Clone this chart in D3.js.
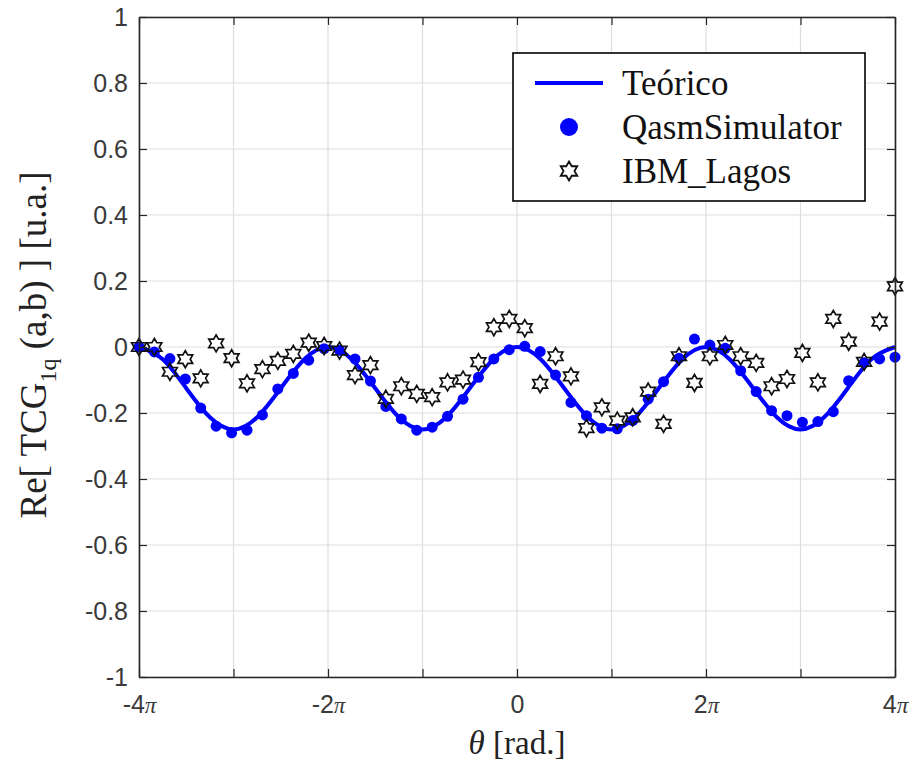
<!DOCTYPE html>
<html>
<head>
<meta charset="utf-8">
<script src="https://cdn.jsdelivr.net/npm/d3@7"></script>
<style>
  body { margin: 0; background: #fff; }
  svg { display: block; }
</style>
</head>
<body>
<div id="graph"><svg></svg></div>
<script>
// sample positions, in multiples of pi
let thetaPi = [-4.000, -3.837, -3.673, -3.510, -3.347, -3.184, -3.020, -2.857, -2.694, -2.531,
  -2.367, -2.204, -2.041, -1.878, -1.714, -1.551, -1.388, -1.224, -1.061, -0.898,
  -0.735, -0.571, -0.408, -0.245, -0.082, 0.082, 0.245, 0.408, 0.571, 0.735,
  0.898, 1.061, 1.224, 1.388, 1.551, 1.714, 1.878, 2.041, 2.204, 2.367,
  2.531, 2.694, 2.857, 3.020, 3.184, 3.347, 3.510, 3.673, 3.837, 4.000];

let qasm = [0.000, -0.015, -0.035, -0.097, -0.185, -0.240, -0.260, -0.252, -0.206, -0.127,
  -0.080, -0.040, -0.005, -0.010, -0.036, -0.103, -0.180, -0.218, -0.252, -0.243,
  -0.210, -0.158, -0.092, -0.036, -0.008, 0.002, -0.014, -0.085, -0.168, -0.208,
  -0.246, -0.248, -0.223, -0.158, -0.105, -0.034, 0.024, 0.006, -0.004, -0.072,
  -0.135, -0.193, -0.208, -0.228, -0.226, -0.196, -0.102, -0.048, -0.036, -0.031];

let lagos = [0.000, 0.000, -0.075, -0.037, -0.095, 0.011, -0.034, -0.110, -0.067, -0.042,
  -0.021, 0.013, 0.003, -0.011, -0.085, -0.055, -0.157, -0.119, -0.142, -0.152,
  -0.107, -0.099, -0.046, 0.060, 0.085, 0.057, -0.112, -0.028, -0.089, -0.246,
  -0.183, -0.223, -0.213, -0.135, -0.233, -0.028, -0.109, -0.028, 0.006, -0.028,
  -0.048, -0.119, -0.097, -0.018, -0.107, 0.085, 0.016, -0.045, 0.077, 0.184];

// theoretical curve read every pi/4
let theoryPi = [-4, -3.75, -3.5, -3.25, -3, -2.75, -2.5, -2.25, -2, -1.75, -1.5, -1.25, -1,
  -0.75, -0.5, -0.25, 0, 0.25, 0.5, 0.75, 1, 1.25, 1.5, 1.75, 2, 2.25, 2.5, 2.75, 3,
  3.25, 3.5, 3.75, 4];
let theory = [0, -0.037, -0.125, -0.213, -0.25, -0.213, -0.125, -0.037, 0, -0.037, -0.125,
  -0.213, -0.25, -0.213, -0.125, -0.037, 0, -0.037, -0.125, -0.213, -0.25, -0.213, -0.125,
  -0.037, 0, -0.037, -0.125, -0.213, -0.25, -0.213, -0.125, -0.037, 0];

let xTicksPi = [-4, -3, -2, -1, 0, 1, 2, 3, 4];
let xTickLabels = ["-4", "", "-2", "", "0", "", "2", "", "4"];
let yTicks = [-1, -0.8, -0.6, -0.4, -0.2, 0, 0.2, 0.4, 0.6, 0.8, 1];
let yTickLabels = ["-1", "-0.8", "-0.6", "-0.4", "-0.2", "0", "0.2", "0.4", "0.6", "0.8", "1"];
let legendNames = ["Teórico", "QasmSimulator", "IBM_Lagos"];

let margins = { top: 17, right: 24, bottom: 90, left: 139 };
let outerWidth = 919;
let outerHeight = 767;
let innerWidth = outerWidth - margins.left - margins.right;
let innerHeight = outerHeight - margins.top - margins.bottom;

let axisColor = "#262626";
let serif = "'Liberation Serif', 'Times New Roman', serif";
let sans = "'Liberation Sans', Arial, sans-serif";

let svgRoot = d3.select("div#graph svg")
  .attr("width", outerWidth)
  .attr("height", outerHeight);

let svg = svgRoot.append("g")
  .attr("id", "plot-area")
  .attr("transform", "translate(" + margins.left + "," + margins.top + ")");

let xScale = d3.scaleLinear().domain([-4, 4]).range([0, innerWidth]);
let yScale = d3.scaleLinear().domain([-1, 1]).range([innerHeight, 0]);

// grid
svg.append("g")
  .selectAll("line")
  .data(xTicksPi)
  .join("line")
  .attr("x1", (d) => xScale(d)).attr("x2", (d) => xScale(d))
  .attr("y1", 0).attr("y2", innerHeight)
  .attr("stroke", "#dedede").attr("stroke-width", 1.2);

svg.append("g")
  .selectAll("line")
  .data(yTicks)
  .join("line")
  .attr("x1", 0).attr("x2", innerWidth)
  .attr("y1", (d) => yScale(d)).attr("y2", (d) => yScale(d))
  .attr("stroke", "#dedede").attr("stroke-width", 1.2);

// theoretical line
let line = d3.line()
  .x((d, i) => xScale(theoryPi[i]))
  .y((d) => yScale(d))
  .curve(d3.curveNatural);

svg.append("path")
  .datum(theory)
  .attr("d", line)
  .attr("fill", "none")
  .attr("stroke", "#0000ff")
  .attr("stroke-width", 4);

// simulator dots
svg.append("g")
  .selectAll("circle")
  .data(qasm)
  .join("circle")
  .attr("cx", (d, i) => xScale(thetaPi[i]))
  .attr("cy", (d) => yScale(d))
  .attr("r", 5.5)
  .attr("fill", "#0000ff");

// hexagram marker
function hexagram(R) {
  let r = R / Math.sqrt(3);
  let pts = [];
  for (let j = 0; j < 12; j++) {
    let a = -Math.PI / 2 + j * Math.PI / 6;
    let rr = j % 2 == 0 ? R : r;
    pts.push([rr * Math.cos(a), rr * Math.sin(a)]);
  }
  return "M" + pts.map((p) => p[0].toFixed(2) + "," + p[1].toFixed(2)).join("L") + "Z";
}

svg.append("g")
  .selectAll("path")
  .data(lagos)
  .join("path")
  .attr("transform", (d, i) => "translate(" + xScale(thetaPi[i]) + "," + yScale(d) + ")")
  .attr("d", hexagram(8.5))
  .attr("fill", "none")
  .attr("stroke", "#111")
  .attr("stroke-width", 1.7);

// axes (ticks inside, box on)
let xAxis = svg.append("g")
  .attr("transform", "translate(0," + innerHeight + ")")
  .call(d3.axisBottom(xScale).tickValues(xTicksPi).tickSizeInner(-8).tickSizeOuter(0)
    .tickPadding(18).tickFormat(""));

let yAxis = svg.append("g")
  .call(d3.axisLeft(yScale).tickValues(yTicks).tickSizeInner(-8).tickSizeOuter(0)
    .tickPadding(11).tickFormat((d, i) => yTickLabels[i]));

svg.append("g")
  .call(d3.axisTop(xScale).tickValues(xTicksPi).tickSizeInner(-8).tickSizeOuter(0).tickFormat(""));

svg.append("g")
  .attr("transform", "translate(" + innerWidth + ",0)")
  .call(d3.axisRight(yScale).tickValues(yTicks).tickSizeInner(-8).tickSizeOuter(0).tickFormat(""));

svg.selectAll(".domain").attr("stroke", axisColor).attr("stroke-width", 1.6);
svg.selectAll(".tick line").attr("stroke", axisColor).attr("stroke-width", 1.2);

yAxis.selectAll("text")
  .style("font-family", sans)
  .style("font-size", "25px")
  .attr("fill", "#3a3a3a");

// x tick labels: number + italic pi; odd multiples have no label
xAxis.selectAll(".tick text").each(function (d, i) {
  let t = d3.select(this);
  if (xTickLabels[i] === "") {
    t.remove();
    return;
  }
  t.style("font-family", sans).style("font-size", "25px").attr("fill", "#3a3a3a");
  t.append("tspan").text(xTickLabels[i]);
  if (xTickLabels[i] !== "0") {
    t.append("tspan")
      .style("font-family", serif)
      .style("font-style", "italic")
      .style("font-size", "23px")
      .text("π");
  }
});
svg.selectAll("g:not(:first-of-type) > .tick text").filter(function () {
  return this.textContent === "";
}).remove();

// legend
let legend = svg.append("g").attr("transform", "translate(" + (513 - margins.left) + "," + (53 - margins.top) + ")");
legend.append("rect")
  .attr("width", 352).attr("height", 148)
  .attr("fill", "#fff").attr("stroke", "#000").attr("stroke-width", 1.6);

let rowY = [30, 74, 118];
legend.append("line")
  .attr("x1", 22).attr("x2", 90).attr("y1", rowY[0]).attr("y2", rowY[0])
  .attr("stroke", "#0000ff").attr("stroke-width", 4);
legend.append("circle")
  .attr("cx", 56).attr("cy", rowY[1]).attr("r", 9).attr("fill", "#0000ff");
legend.append("path")
  .attr("transform", "translate(56," + rowY[2] + ")")
  .attr("d", hexagram(9.5))
  .attr("fill", "none").attr("stroke", "#111").attr("stroke-width", 1.8);

legend.selectAll("text.name")
  .data(legendNames)
  .join("text")
  .attr("class", "name")
  .attr("x", 109)
  .attr("y", (d, i) => rowY[i] + 12)
  .style("font-family", serif)
  .style("font-size", "35px")
  .attr("fill", "#111")
  .text((d) => d);

// x axis title
let xt = svgRoot.append("text")
  .attr("x", margins.left + innerWidth / 2)
  .attr("y", 754)
  .attr("text-anchor", "middle")
  .style("font-family", serif)
  .style("font-size", "33px")
  .attr("fill", "#222");
xt.append("tspan").style("font-style", "italic").text("θ");
xt.append("tspan").text(" [rad.]");

// y axis title
let yt = svgRoot.append("text")
  .attr("transform", "translate(46," + (margins.top + innerHeight / 2 - 2) + ") rotate(-90)")
  .attr("text-anchor", "middle")
  .style("font-family", serif)
  .style("font-size", "37px")
  .attr("fill", "#222");
yt.append("tspan").text("Re[ TCG");
yt.append("tspan").attr("dy", 10).style("font-size", "24px").text("1q");
yt.append("tspan").attr("dy", -10).text(" (a,b) ] [u.a.]");
</script>
</body>
</html>
